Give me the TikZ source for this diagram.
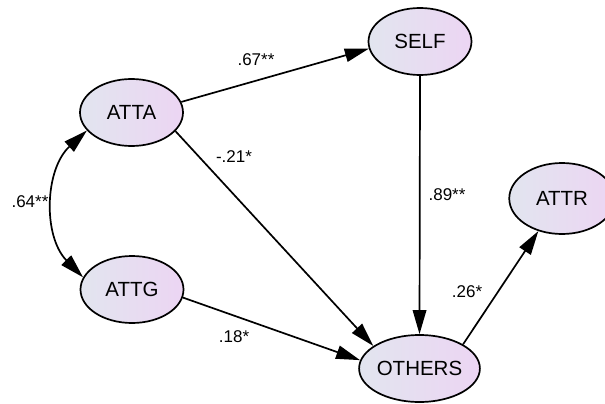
\documentclass[tikz,border=0pt]{standalone}
\usepackage{fontspec}
\setmainfont{Liberation Sans}
\usetikzlibrary{shapes.geometric,arrows.meta}

\definecolor{varleft}{HTML}{E2E5EF}
\definecolor{varright}{HTML}{ECD5F3}

\tikzset{
	var/.style={ellipse,draw,line width=1.7pt,inner sep=0pt,minimum width=103pt,minimum height=67pt,
		left color=varleft,right color=varright,font=\fontsize{20.5}{24}\selectfont},
	coef/.style={inner sep=0pt,font=\fontsize{17}{20}\selectfont},
	link/.style={line width=1.7pt,-{Triangle[length=24pt,width=13.5pt]}},
}

\begin{document}
\begin{tikzpicture}[x=1pt,y=-1pt]
		\useasboundingbox (0,0) rectangle (605,404);

		\node[var] (atta) at (131.5,112.5) {ATTA};
		\node[var] (attg) at (132,289.5) {ATTG};

		\node[var] (self) at (420,41.5) {SELF};
		\node[var] (others) at (419.5,368.5) {OTHERS};

		\node[var,minimum width=105.5pt,minimum height=71pt] (attr) at (562,198.5) {ATTR};

		\draw[link] (atta.12) -- (self.188);
		\draw[link] (atta.-23) -- (others.154);
		\draw[link] (attg.-9) -- (others.172.5);
		\draw[link] (self.south) -- (others.north);
		\draw[link] (others.29.5) -- (attr.234);

		\draw[line width=1.7pt,{Triangle[length=24pt,width=13.5pt]}-{Triangle[length=24pt,width=13.5pt]}] (atta.202) to[bend right=46] (attg.166);

		\node[coef] (c1) at (256,60) {.67**};
		\node[coef] (c2) at (234,157) {-.21*};
		\node[coef] (c3) at (30,202) {.64**};
		\node[coef] (c4) at (447,195) {.89**};
		\node[coef] (c5) at (467,292) {.26*};
		\node[coef] (c6) at (234,337) {.18*};
	\end{tikzpicture}
\end{document}
